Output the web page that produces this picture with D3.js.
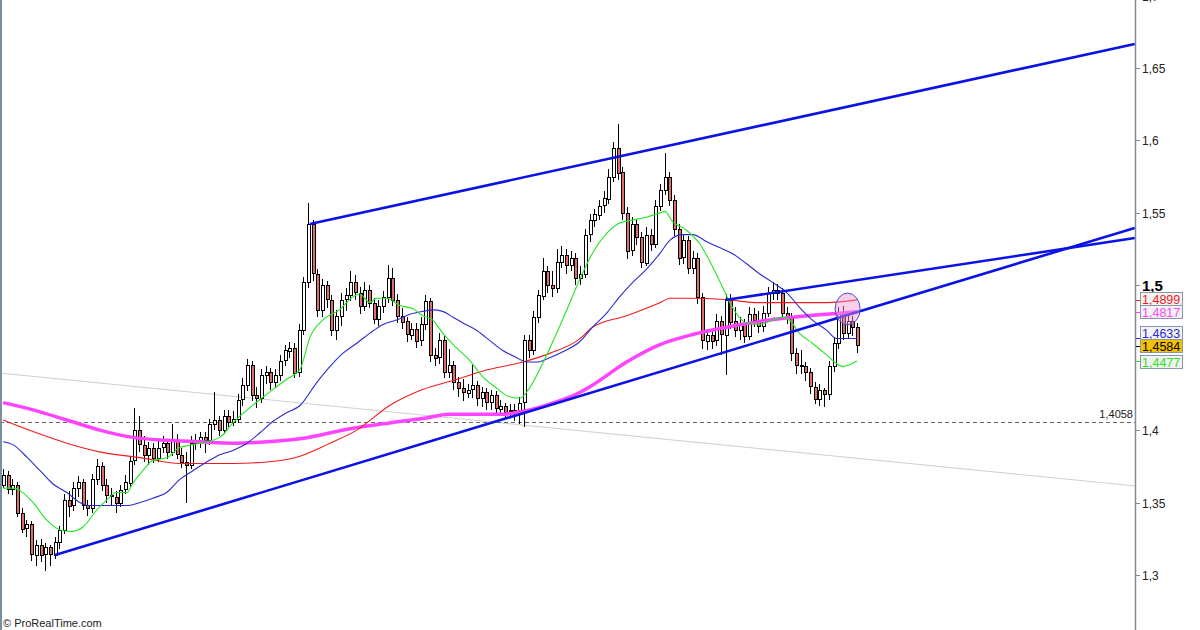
<!DOCTYPE html>
<html>
<head>
<meta charset="utf-8">
<script src="https://cdn.jsdelivr.net/npm/d3@7"></script>
<style>
  html, body { margin: 0; padding: 0; background: #fff; }
  svg { display: block; font-family: Arial, "Liberation Sans", sans-serif; }
</style>
</head>
<body>
<div id="chart"></div>
<script>
// Price bars (open of each bar = previous close)
const firstOpen = 1.362;
const closes = [
  1.369,1.359,1.362,1.343,1.332,1.335,1.314,1.321,1.314,1.319,
  1.314,1.323,1.331,1.352,1.348,1.360,1.364,1.348,1.346,1.366,
  1.375,1.362,1.355,1.354,1.350,1.359,1.364,1.379,1.400,1.390,
  1.383,1.388,1.381,1.388,1.391,1.385,1.393,1.383,1.378,1.376,
  1.391,1.393,1.395,1.393,1.404,1.407,1.400,1.410,1.406,1.408,
  1.421,1.431,1.445,1.424,1.422,1.438,1.440,1.433,1.438,1.448,
  1.455,1.457,1.440,1.469,1.502,1.542,1.508,1.483,1.500,1.490,
  1.469,1.479,1.490,1.493,1.502,1.495,1.486,1.497,1.488,1.477,
  1.486,1.492,1.505,1.490,1.479,1.475,1.466,1.470,1.462,1.473,
  1.489,1.452,1.450,1.462,1.440,1.445,1.433,1.429,1.426,1.428,
  1.431,1.422,1.426,1.419,1.424,1.415,1.417,1.413,1.414,1.414,
  1.419,1.462,1.455,1.478,1.493,1.510,1.500,1.498,1.516,1.521,
  1.514,1.519,1.505,1.508,1.535,1.545,1.549,1.555,1.560,1.575,
  1.595,1.578,1.550,1.524,1.542,1.533,1.516,1.535,1.529,1.555,
  1.566,1.575,1.559,1.539,1.519,1.531,1.512,1.519,1.492,1.462,
  1.466,1.462,1.475,1.466,1.490,1.475,1.469,1.473,1.465,1.480,
  1.476,1.472,1.481,1.495,1.497,1.495,1.481,1.478,1.453,1.445,
  1.444,1.440,1.430,1.422,1.428,1.425,1.444,1.460,1.481,1.467,
  1.475,1.471,1.4584
];
const highs = [
  1.373,1.372,1.366,1.364,1.346,1.338,1.337,1.324,1.325,1.322,
  1.321,1.326,1.334,1.356,1.358,1.364,1.368,1.366,1.352,1.370,
  1.380,1.378,1.366,1.360,1.358,1.362,1.369,1.382,1.415,1.410,
  1.396,1.392,1.391,1.393,1.396,1.394,1.404,1.397,1.388,1.385,
  1.396,1.397,1.399,1.399,1.408,1.426,1.410,1.414,1.414,1.413,
  1.425,1.436,1.449,1.448,1.430,1.442,1.444,1.443,1.442,1.452,
  1.459,1.461,1.460,1.473,1.506,1.557,1.545,1.511,1.504,1.503,
  1.493,1.483,1.495,1.498,1.510,1.507,1.499,1.502,1.500,1.491,
  1.490,1.496,1.514,1.512,1.494,1.484,1.478,1.474,1.474,1.478,
  1.493,1.491,1.457,1.467,1.465,1.456,1.448,1.437,1.435,1.432,
  1.445,1.434,1.430,1.429,1.428,1.427,1.421,1.419,1.418,1.418,
  1.423,1.466,1.466,1.482,1.497,1.519,1.513,1.510,1.525,1.527,
  1.525,1.524,1.522,1.513,1.539,1.549,1.553,1.559,1.565,1.580,
  1.599,1.611,1.582,1.554,1.547,1.546,1.537,1.540,1.539,1.559,
  1.570,1.591,1.578,1.562,1.542,1.535,1.534,1.524,1.522,1.495,
  1.470,1.470,1.480,1.479,1.494,1.494,1.485,1.478,1.477,1.485,
  1.484,1.482,1.486,1.499,1.502,1.501,1.498,1.485,1.481,1.457,
  1.455,1.447,1.443,1.433,1.432,1.429,1.448,1.464,1.485,1.486,
  1.479,1.479,1.474
];
const lows = [
  1.360,1.356,1.355,1.340,1.329,1.326,1.310,1.306,1.309,1.303,
  1.306,1.311,1.318,1.328,1.340,1.344,1.354,1.345,1.341,1.343,
  1.362,1.358,1.350,1.348,1.343,1.347,1.356,1.361,1.376,1.385,
  1.378,1.376,1.377,1.378,1.384,1.380,1.382,1.380,1.374,1.350,
  1.373,1.386,1.388,1.384,1.390,1.400,1.396,1.397,1.402,1.403,
  1.405,1.417,1.427,1.420,1.415,1.419,1.432,1.428,1.430,1.434,
  1.444,1.450,1.436,1.437,1.466,1.498,1.503,1.478,1.478,1.484,
  1.465,1.462,1.472,1.482,1.489,1.490,1.480,1.482,1.484,1.473,
  1.472,1.481,1.488,1.486,1.474,1.470,1.461,1.462,1.457,1.458,
  1.469,1.447,1.444,1.446,1.436,1.436,1.428,1.423,1.420,1.422,
  1.422,1.417,1.416,1.414,1.414,1.411,1.411,1.408,1.409,1.406,
  1.404,1.402,1.450,1.452,1.474,1.490,1.495,1.492,1.495,1.512,
  1.508,1.510,1.500,1.500,1.505,1.530,1.540,1.545,1.550,1.556,
  1.571,1.573,1.545,1.518,1.520,1.528,1.512,1.513,1.524,1.526,
  1.551,1.562,1.555,1.534,1.514,1.515,1.508,1.508,1.487,1.456,
  1.455,1.456,1.458,1.452,1.438,1.470,1.464,1.462,1.460,1.462,
  1.471,1.467,1.468,1.478,1.490,1.490,1.477,1.473,1.448,1.439,
  1.439,1.434,1.425,1.418,1.417,1.416,1.421,1.440,1.456,1.462,
  1.463,1.465,1.453
];

// Moving averages, read at bar positions
const fastAt = [0,2.1,6.4,9.3,12.2,14.3,17,20,22.2,24.2,26.4,27.6,29.8,31.9,34.9,37.7,40.5,43.4,46.2,49,52,54.7,57.5,60.4,63.3,65.4,68.1,71.7,74.6,76,78.2,79.6,81.8,84.6,87.3,89.4,91.6,93.7,96.6,99.5,102.2,105.2,107.9,110.1,112.2,115,118,120.8,122.9,125.6,128.7,131.4,134.2,137.1,140,141,142.7,145.7,148.4,151.2,153.3,155.4,158.4,161.2,164,166.1,167.6,169.7,172.5,175.5,177.6,178.9,180.3,182];
const fastVal = [1.360,1.360,1.350,1.338,1.331,1.330,1.333,1.345,1.352,1.357,1.357,1.363,1.372,1.379,1.381,1.388,1.390,1.392,1.395,1.405,1.414,1.421,1.428,1.435,1.442,1.464,1.476,1.483,1.492,1.494,1.488,1.491,1.491,1.486,1.484,1.479,1.476,1.467,1.457,1.448,1.437,1.429,1.423,1.422,1.429,1.446,1.467,1.488,1.504,1.522,1.536,1.543,1.545,1.547,1.550,1.551,1.544,1.538,1.529,1.513,1.499,1.485,1.474,1.473,1.476,1.478,1.476,1.467,1.460,1.452,1.446,1.444,1.445,1.4477];

const midAt = [0,2.1,5.2,7.9,10.6,13.6,16.4,17.9,26.7,29.2,31.9,34.9,37.7,40.5,43.4,46.2,49,52,54.7,57.5,60.4,63.3,66.9,69.7,72.4,75.4,78.2,81,83.9,86.7,89.4,91.6,93.7,95.9,98,100.9,103.7,106.5,109.5,111.6,113.7,116.5,119.2,122.9,125.6,128.7,131.4,134.2,137.1,140,142.1,144.8,147,150,152.7,155.4,158.4,161.2,164,167,169.7,172.5,175.5,177.6,182];
const midVal = [1.392,1.390,1.381,1.372,1.363,1.357,1.350,1.348,1.348,1.350,1.353,1.357,1.366,1.372,1.378,1.383,1.386,1.391,1.398,1.406,1.412,1.417,1.433,1.444,1.453,1.460,1.467,1.473,1.476,1.480,1.482,1.483,1.482,1.478,1.474,1.469,1.462,1.455,1.450,1.447,1.447,1.450,1.454,1.461,1.471,1.481,1.492,1.502,1.511,1.522,1.531,1.535,1.535,1.530,1.526,1.522,1.515,1.508,1.502,1.495,1.485,1.476,1.469,1.4633,1.4633];

const slowAt = [0,6.4,13.6,20.6,29.2,37.7,43.4,49,56.3,63.3,69.7,75.4,82.4,89.4,96.6,103.7,110.8,116.5,122.9,125.6,132.9,140,142.1,147,154.2,161.2,168.3,175.5,182];
const slowVal = [1.407,1.399,1.391,1.385,1.381,1.377,1.377,1.377,1.378,1.382,1.391,1.400,1.417,1.428,1.435,1.442,1.447,1.453,1.463,1.471,1.479,1.488,1.491,1.491,1.490,1.488,1.488,1.488,1.4899];

const longAt = [0,6.4,13.6,20.6,27.6,34.9,41.9,49,56.3,63.3,74,82.4,89.4,95.2,100.9,106.5,110.8,116.5,122.9,125.6,132.9,140,147,154.2,161.2,168.3,175.5,182];
const longVal = [1.419,1.414,1.407,1.400,1.395,1.393,1.392,1.391,1.392,1.394,1.401,1.405,1.408,1.411,1.411,1.411,1.413,1.418,1.426,1.431,1.447,1.459,1.466,1.471,1.475,1.478,1.480,1.4817];

// Hand drawn lines: [startBar, startPrice, endBar, endPrice]
const channelTop = [65.4, 1.5423, 241.2, 1.6666];
const supportLine = [11.1, 1.3138, 241.2, 1.5396];
const shortTop = [153.9, 1.4898, 241.2, 1.5326];
const greyLine = [-1, 1.4395, 241.2, 1.3615];
const levelValue = 1.4058;
const markCenter = [180, 1.4836];
const markRadius = [2.66, 0.011];

// Axis ticks and last values
const tickValues = [1.3, 1.35, 1.4, 1.5, 1.55, 1.6, 1.65, 1.7];
const lastNames = ['slow', 'long', 'mid', 'price', 'fast'];
const lastValues = [1.4899, 1.4817, 1.4633, 1.4584, 1.4477];

const W = 1200, H = 630, axisX = 1135;
const colors = { fast: '#22e622', mid: '#2b2bd0', slow: '#ee1c1c', long: '#ff44ff', price: '#000' };

const bars = closes.map((c, i) => ({
  i: i,
  o: i === 0 ? firstOpen : closes[i - 1],
  c: c, h: highs[i], l: lows[i]
}));

const x = d3.scaleLinear().domain([0, closes.length - 1]).range([3, 857]);
const y = d3.scaleLinear().domain([1.3, 1.65]).range([575, 68]);
const fmt = v => String(+v.toFixed(4)).replace('.', ',');

const svg = d3.select('#chart').append('svg')
  .attr('width', W).attr('height', H);

svg.append('defs').append('clipPath').attr('id', 'plot')
  .append('rect').attr('x', 0).attr('y', 0).attr('width', axisX).attr('height', H);

const plot = svg.append('g').attr('clip-path', 'url(#plot)');

// grey line + dashed level
plot.append('line')
  .attr('x1', x(greyLine[0])).attr('y1', y(greyLine[1]))
  .attr('x2', x(greyLine[2])).attr('y2', y(greyLine[3]))
  .attr('stroke', '#cfcfcf').attr('stroke-width', 1);

plot.append('line')
  .attr('x1', 0).attr('x2', axisX)
  .attr('y1', Math.round(y(levelValue)) + 0.5).attr('y2', Math.round(y(levelValue)) + 0.5)
  .attr('stroke', '#666').attr('stroke-dasharray', '4,3');

// candles
const candles = plot.append('g');
candles.selectAll('line')
  .data(bars).enter().append('line')
  .attr('x1', d => Math.round(x(d.i)) + 0.5).attr('x2', d => Math.round(x(d.i)) + 0.5)
  .attr('y1', d => y(d.h)).attr('y2', d => y(d.l))
  .attr('stroke', '#000').attr('stroke-width', 1)
  .attr('shape-rendering', 'crispEdges');

candles.selectAll('rect')
  .data(bars).enter().append('rect')
  .attr('x', d => Math.round(x(d.i)) - 1)
  .attr('width', 3)
  .attr('y', d => Math.round(y(Math.max(d.o, d.c))) + 0.5)
  .attr('height', d => Math.max(1, Math.round(Math.abs(y(d.o) - y(d.c)))))
  .attr('fill', d => d.c >= d.o ? '#fff' : '#dd6f66')
  .attr('stroke', '#000').attr('stroke-width', 1)
  .attr('shape-rendering', 'crispEdges');

// moving averages
const maLine = d3.line()
  .x(d => x(d[0])).y(d => y(d[1]))
  .curve(d3.curveMonotoneX);

[
  { at: longAt, val: longVal, color: colors.long, w: 3.5 },
  { at: slowAt, val: slowVal, color: colors.slow, w: 1.1 },
  { at: midAt, val: midVal, color: colors.mid, w: 1.1 },
  { at: fastAt, val: fastVal, color: colors.fast, w: 1.1 }
].forEach(s => {
  plot.append('path')
    .datum(d3.zip(s.at, s.val))
    .attr('d', maLine)
    .attr('fill', 'none')
    .attr('stroke', s.color)
    .attr('stroke-width', s.w);
});

// trend lines
[channelTop, supportLine, shortTop].forEach(t => {
  plot.append('line')
    .attr('x1', x(t[0])).attr('y1', y(t[1]))
    .attr('x2', x(t[2])).attr('y2', y(t[3]))
    .attr('stroke', '#0a12e6').attr('stroke-width', 2.6);
});

// highlight mark
plot.append('ellipse')
  .attr('cx', x(markCenter[0])).attr('cy', y(markCenter[1]))
  .attr('rx', x(markRadius[0]) - x(0))
  .attr('ry', y(0) - y(markRadius[1]))
  .attr('fill', 'rgba(240,150,210,0.45)')
  .attr('stroke', '#4a4ae0').attr('stroke-width', 1);

plot.append('text')
  .attr('x', axisX - 2).attr('y', y(levelValue) - 4)
  .attr('text-anchor', 'end')
  .attr('font-size', 11).attr('fill', '#222')
  .text(fmt(levelValue));

// frame
svg.append('line').attr('x1', 1).attr('x2', 1).attr('y1', 0).attr('y2', H)
  .attr('stroke', '#7890a0').attr('stroke-width', 2);
svg.append('line').attr('x1', axisX + 0.5).attr('x2', axisX + 0.5).attr('y1', 0).attr('y2', H)
  .attr('stroke', '#7f8c99').attr('stroke-width', 1.5);

// right axis ticks
const axis = svg.append('g');
tickValues.forEach(v => {
  const ty = Math.round(y(v)) + 0.5;
  axis.append('line')
    .attr('x1', axisX).attr('x2', axisX + 5).attr('y1', ty).attr('y2', ty)
    .attr('stroke', '#7f8c99');
  const bold = Math.abs(v - 1.5) < 1e-9;
  axis.append('text')
    .attr('x', axisX + 7).attr('y', ty + (bold ? 5 : 4.5))
    .attr('font-size', bold ? 15 : 12)
    .attr('font-weight', bold ? 'bold' : 'normal')
    .attr('fill', bold ? '#000' : '#222')
    .text(fmt(v));
});

// last value boxes, pushed apart around the current price
const boxH = 13, gap = 13.5;
const labels = lastValues.map((v, k) => ({ v: v, name: lastNames[k], cy: y(v) }));
const pi = lastNames.indexOf('price');
for (let k = pi - 1; k >= 0; k--) labels[k].cy = Math.min(labels[k].cy, labels[k + 1].cy - gap);
for (let k = pi + 1; k < labels.length; k++) labels[k].cy = Math.max(labels[k].cy, labels[k - 1].cy + gap);

const boxes = svg.append('g');
labels.forEach(d => {
  const ty = Math.round(y(d.v)) + 0.5;
  boxes.append('line')
    .attr('x1', axisX + 1).attr('x2', axisX + 5).attr('y1', ty).attr('y2', ty)
    .attr('stroke', colors[d.name]).attr('stroke-width', 1);
  const top = Math.round(d.cy - boxH / 2) + 0.5;
  boxes.append('rect')
    .attr('x', axisX + 5.5).attr('y', top)
    .attr('width', 42).attr('height', boxH)
    .attr('fill', d.name === 'price' ? '#f5c000' : '#f3f3f3')
    .attr('stroke', '#8a98a6').attr('stroke-width', 1);
  boxes.append('text')
    .attr('x', axisX + 7).attr('y', top + 11)
    .attr('font-size', 12.5)
    .attr('fill', colors[d.name])
    .text(fmt(d.v));
});

svg.append('text')
  .attr('x', 3).attr('y', 627)
  .attr('font-size', 11).attr('fill', '#222')
  .text('\u00a9 ProRealTime.com');
</script>
</body>
</html>
